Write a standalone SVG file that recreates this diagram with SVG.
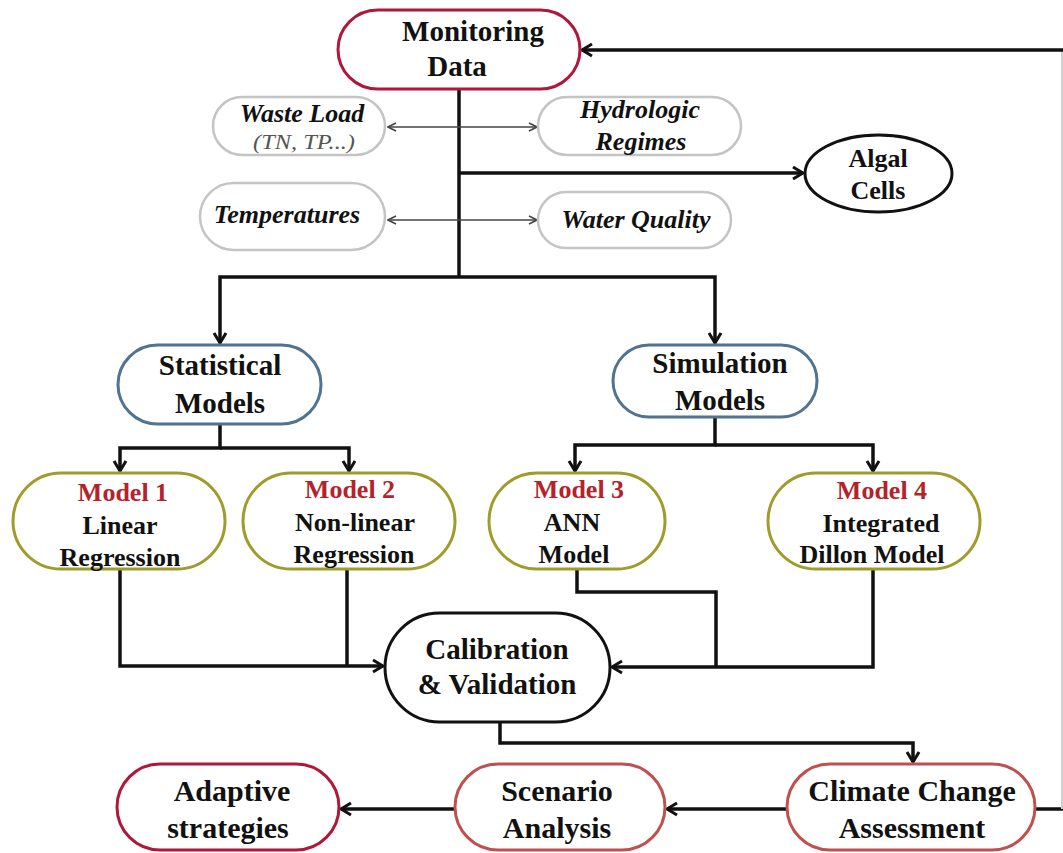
<svg xmlns="http://www.w3.org/2000/svg" width="1063" height="853" viewBox="0 0 1063 853">
<style>
.pill{fill:#fff;stroke-width:3}
.crim{stroke:#b0173a}
.lred{stroke:#c0504d}
.blue{stroke:#4f7391}
.olive{stroke:#a09c2c}
.gray{stroke:#c4c4c4;stroke-width:2.5}
.blk{stroke:#111}
.t{font-family:"Liberation Serif","Times New Roman",serif;font-weight:bold;fill:#111;text-anchor:middle}
.h{font-size:29px}
.b{font-size:30px}
.m{font-size:26px}
.r{fill:#b5222a}
.i{font-style:italic;font-size:26px}
.s{font-style:italic;font-weight:normal;font-size:20px;fill:#555}
.c{fill:none;stroke:#111;stroke-width:3.5}
.thin{fill:none;stroke:#444;stroke-width:1.6}
</style>
<defs>
<marker id="ah" markerUnits="userSpaceOnUse" viewBox="0 0 16 16" markerWidth="16" markerHeight="16" refX="14" refY="8" orient="auto">
<path d="M4,2 L14,8 L4,14" fill="none" stroke="#111" stroke-width="3"/>
</marker>
<marker id="ta" markerUnits="userSpaceOnUse" viewBox="0 0 12 12" markerWidth="12" markerHeight="12" refX="11" refY="6" orient="auto-start-reverse">
<path d="M3,2 L11,6 L3,10" fill="none" stroke="#444" stroke-width="1.6"/>
</marker>
</defs>
<rect width="1063" height="853" fill="#fff"/>

<g id="connectors">
<path class="c" d="M1035,809 H1063"/>
<line x1="1062" y1="50" x2="1062" y2="809" stroke="#d0d0d0" stroke-width="2"/>
<path class="c" d="M1063,50 H582" marker-end="url(#ah)"/>
<path class="c" d="M459,89 V277"/>
<path class="c" d="M459,173 H803" marker-end="url(#ah)"/>
<path class="thin" d="M388,127 H537" marker-start="url(#ta)" marker-end="url(#ta)"/>
<path class="thin" d="M388,220 H537" marker-start="url(#ta)" marker-end="url(#ta)"/>
<path class="c" d="M459,277 H220 V343" marker-end="url(#ah)"/>
<path class="c" d="M459,277 H715 V343" marker-end="url(#ah)"/>
<path class="c" d="M220,424 V448 H120 V471" marker-end="url(#ah)"/>
<path class="c" d="M220,448 H349 V471" marker-end="url(#ah)"/>
<path class="c" d="M715,417 V445 H575 V471" marker-end="url(#ah)"/>
<path class="c" d="M715,445 H873 V471" marker-end="url(#ah)"/>
<path class="c" d="M120,569 V666 H383" marker-end="url(#ah)"/>
<path class="c" d="M347,569 V666"/>
<path class="c" d="M577,568 V592 H716 V667"/>
<path class="c" d="M873,568 V667 H612" marker-end="url(#ah)"/>
<path class="c" d="M500,722 V743 H913 V762" marker-end="url(#ah)"/>
<path class="c" d="M787,809 H667" marker-end="url(#ah)"/>
<path class="c" d="M455,809 H341" marker-end="url(#ah)"/>
</g>

<g id="monitoring">
<rect class="pill crim" x="338" y="10" width="242" height="79" rx="39.5"/>
<text class="t h" x="473" y="41">Monitoring</text>
<text class="t h" x="457" y="76">Data</text>
</g>
<g id="wasteload">
<rect class="pill gray" x="213" y="97" width="172" height="58" rx="29"/>
<text class="t i" x="302" y="122">Waste Load</text>
<text class="t s" x="304" y="149" textLength="102" lengthAdjust="spacingAndGlyphs">(TN, TP...)</text>
</g>
<g id="hydrologic">
<rect class="pill gray" x="538" y="97" width="203" height="58" rx="29"/>
<text class="t i" x="640" y="118">Hydrologic</text>
<text class="t i" x="641" y="150">Regimes</text>
</g>
<g id="temperatures">
<rect class="pill gray" x="200" y="183" width="185" height="67" rx="33.5"/>
<text class="t i" x="287" y="223">Temperatures</text>
</g>
<g id="waterquality">
<rect class="pill gray" x="538" y="192" width="193" height="56" rx="28"/>
<text class="t i" x="636" y="228">Water Quality</text>
</g>
<g id="algal">
<ellipse cx="878.5" cy="173.5" rx="73.5" ry="38.5" fill="#fff" stroke="#111" stroke-width="3"/>
<text class="t m" x="878" y="167">Algal</text>
<text class="t m" x="878" y="199">Cells</text>
</g>
<g id="statistical">
<rect class="pill blue" x="118" y="345" width="203" height="79" rx="39.5"/>
<text class="t h" x="220" y="375">Statistical</text>
<text class="t h" x="220" y="413">Models</text>
</g>
<g id="simulation">
<rect class="pill blue" x="613" y="345" width="204" height="72" rx="36"/>
<text class="t h" x="720" y="373">Simulation</text>
<text class="t h" x="720" y="410">Models</text>
</g>
<g id="model1">
<rect class="pill olive" x="13" y="473" width="212" height="96" rx="48"/>
<text class="t m r" x="123" y="501">Model 1</text>
<text class="t m" x="120" y="534">Linear</text>
<text class="t m" x="120" y="566">Regression</text>
</g>
<g id="model2">
<rect class="pill olive" x="243" y="473" width="212" height="96" rx="48"/>
<text class="t m r" x="350" y="498">Model 2</text>
<text class="t m" x="355" y="531">Non-linear</text>
<text class="t m" x="354" y="563">Regression</text>
</g>
<g id="model3">
<rect class="pill olive" x="489" y="473" width="176" height="96" rx="48"/>
<text class="t m r" x="579" y="498">Model 3</text>
<text class="t m" x="572" y="531">ANN</text>
<text class="t m" x="574" y="563">Model</text>
</g>
<g id="model4">
<rect class="pill olive" x="768" y="473" width="212" height="96" rx="48"/>
<text class="t m r" x="882" y="499">Model 4</text>
<text class="t m" x="881" y="532">Integrated</text>
<text class="t m" x="872" y="563">Dillon Model</text>
</g>
<g id="calibration">
<rect class="pill blk" x="385" y="613" width="225" height="109" rx="54.5"/>
<text class="t h" x="497" y="659">Calibration</text>
<text class="t h" x="497" y="694">&amp; Validation</text>
</g>
<g id="climate">
<rect class="pill lred" x="787" y="764" width="248" height="86" rx="43"/>
<text class="t b" x="912" y="801">Climate Change</text>
<text class="t b" x="912" y="838">Assessment</text>
</g>
<g id="scenario">
<rect class="pill lred" x="455" y="764" width="210" height="86" rx="43"/>
<text class="t b" x="557" y="801">Scenario</text>
<text class="t b" x="557" y="838">Analysis</text>
</g>
<g id="adaptive">
<rect class="pill crim" x="117" y="764" width="222" height="86" rx="43"/>
<text class="t b" x="232" y="801">Adaptive</text>
<text class="t b" x="228" y="838">strategies</text>
</g>
</svg>
